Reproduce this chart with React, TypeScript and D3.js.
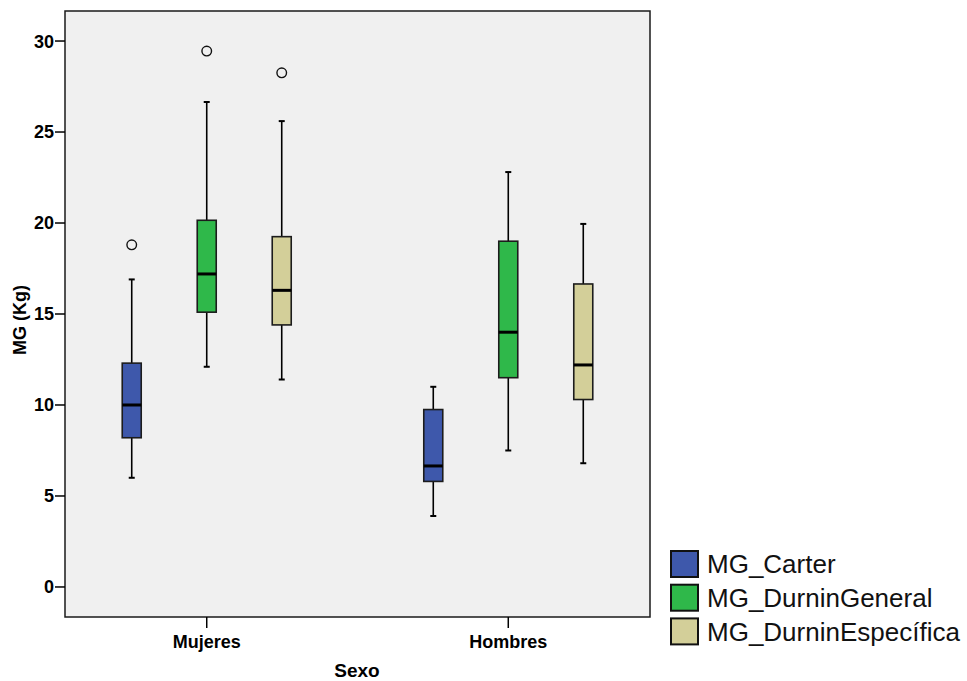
import React from "react";
import * as d3 from "d3";

// Groups on the x axis and the three measures compared within each group
const categories = ["Mujeres", "Hombres"];
const seriesNames = ["MG_Carter", "MG_DurninGeneral", "MG_DurninEspecífica"];
const seriesColors = ["#3e58ab", "#2fb84a", "#d3cf99"];

// Five-number summaries, indexed [series][category]
const whiskerLow = [
  [6.0, 3.9],
  [12.1, 7.5],
  [11.4, 6.8],
];
const q1 = [
  [8.2, 5.8],
  [15.1, 11.5],
  [14.4, 10.3],
];
const medians = [
  [10.0, 6.65],
  [17.2, 14.0],
  [16.3, 12.2],
];
const q3 = [
  [12.3, 9.75],
  [20.15, 19.0],
  [19.25, 16.65],
];
const whiskerHigh = [
  [16.9, 11.0],
  [26.65, 22.8],
  [25.6, 19.95],
];
const outliers = [
  [[18.8], []],
  [[29.45], []],
  [[28.25], []],
];

const yTicks = [0, 5, 10, 15, 20, 25, 30];

const W = 967;
const H = 681;
const plot = { left: 65, top: 11, right: 650, bottom: 617 };

export default function App() {
  const y = d3.scaleLinear().domain([-1.65, 31.65]).range([plot.bottom, plot.top]);
  const x = d3
    .scalePoint<string>()
    .domain(categories)
    .range([plot.left, plot.right])
    .padding(0.47);
  const inner = d3
    .scaleBand<string>()
    .domain(seriesNames)
    .range([-112.5, 112.5]);
  const boxW = 19;
  const capW = 6;
  const font = "Arial, 'Liberation Sans', Helvetica, sans-serif";

  return (
    <svg
      width={W}
      height={H}
      style={{ position: "absolute", left: 0, top: 0, background: "#fff" }}
    >
      <rect
        x={plot.left}
        y={plot.top}
        width={plot.right - plot.left}
        height={plot.bottom - plot.top}
        fill="#f0f0f0"
        stroke="#1a1a1a"
        strokeWidth={1.5}
      />

      {/* y axis ticks and labels */}
      {yTicks.map((t) => (
        <g key={t}>
          <line
            x1={plot.left - 10}
            x2={plot.left}
            y1={y(t)}
            y2={y(t)}
            stroke="#000"
            strokeWidth={1.5}
          />
          <text
            x={plot.left - 11}
            y={y(t)}
            dy="0.36em"
            textAnchor="end"
            fontFamily={font}
            fontWeight="bold"
            fontSize={18}
          >
            {t}
          </text>
        </g>
      ))}

      {/* x axis ticks and labels */}
      {categories.map((c) => (
        <g key={c}>
          <line
            x1={x(c)}
            x2={x(c)}
            y1={plot.bottom}
            y2={plot.bottom + 11}
            stroke="#000"
            strokeWidth={1.5}
          />
          <text
            x={x(c)}
            y={plot.bottom + 31}
            textAnchor="middle"
            fontFamily={font}
            fontWeight="bold"
            fontSize={18}
          >
            {c}
          </text>
        </g>
      ))}

      {/* axis titles */}
      <text
        x={357}
        y={677}
        textAnchor="middle"
        fontFamily={font}
        fontWeight="bold"
        fontSize={19}
      >
        Sexo
      </text>
      <text
        transform={`translate(26, ${(plot.top + plot.bottom) / 2 + 6}) rotate(-90)`}
        textAnchor="middle"
        fontFamily={font}
        fontWeight="bold"
        fontSize={18}
      >
        MG (Kg)
      </text>

      {/* boxes */}
      {seriesNames.map((s, si) =>
        categories.map((c, ci) => {
          const cx = (x(c) as number) + (inner(s) as number) + inner.bandwidth() / 2;
          return (
            <g key={s + c}>
              <line
                x1={cx}
                x2={cx}
                y1={y(whiskerHigh[si][ci])}
                y2={y(q3[si][ci])}
                stroke="#000"
                strokeWidth={1.6}
              />
              <line
                x1={cx}
                x2={cx}
                y1={y(q1[si][ci])}
                y2={y(whiskerLow[si][ci])}
                stroke="#000"
                strokeWidth={1.6}
              />
              <line
                x1={cx - capW / 2}
                x2={cx + capW / 2}
                y1={y(whiskerHigh[si][ci])}
                y2={y(whiskerHigh[si][ci])}
                stroke="#000"
                strokeWidth={2}
              />
              <line
                x1={cx - capW / 2}
                x2={cx + capW / 2}
                y1={y(whiskerLow[si][ci])}
                y2={y(whiskerLow[si][ci])}
                stroke="#000"
                strokeWidth={2}
              />
              <rect
                x={cx - boxW / 2}
                y={y(q3[si][ci])}
                width={boxW}
                height={y(q1[si][ci]) - y(q3[si][ci])}
                fill={seriesColors[si]}
                stroke="#1c1c1c"
                strokeWidth={1.6}
              />
              <line
                x1={cx - boxW / 2}
                x2={cx + boxW / 2}
                y1={y(medians[si][ci])}
                y2={y(medians[si][ci])}
                stroke="#000"
                strokeWidth={3}
              />
              {outliers[si][ci].map((o, oi) => (
                <circle
                  key={oi}
                  cx={cx}
                  cy={y(o)}
                  r={4.8}
                  fill="none"
                  stroke="#111"
                  strokeWidth={1.4}
                />
              ))}
            </g>
          );
        })
      )}

      {/* legend */}
      {seriesNames.map((s, si) => (
        <g key={s} transform={`translate(671, ${551 + si * 33.7})`}>
          <rect
            width={27}
            height={26}
            fill={seriesColors[si]}
            stroke="#111"
            strokeWidth={2}
          />
          <text
            x={36}
            y={13}
            dy="0.36em"
            fontFamily={font}
            fontSize={26}
            fill="#111"
          >
            {s}
          </text>
        </g>
      ))}
    </svg>
  );
}
